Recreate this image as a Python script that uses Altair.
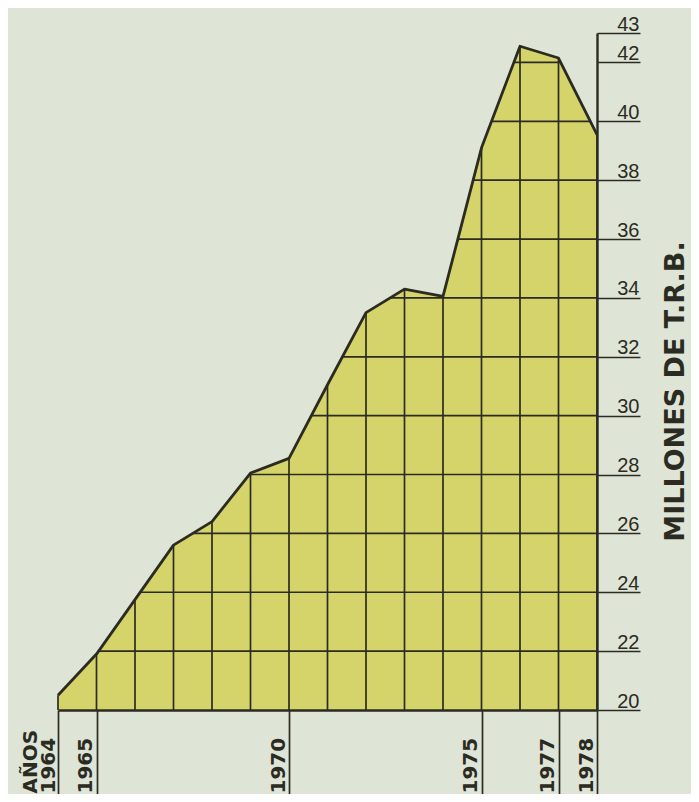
import altair as alt
import pandas as pd

# ---- data ----
years = [1964, 1965, 1966, 1967, 1968, 1969, 1970, 1971, 1972, 1973, 1974, 1975, 1976, 1977, 1978]
values = [20.5, 21.9, 23.75, 25.6, 26.4, 28.05, 28.55, 31.05, 33.5, 34.3, 34.05, 39.1, 42.55, 42.15, 39.55]
grid_levels = [22, 24, 26, 28, 30, 32, 34, 36, 38, 40, 42]
y_ticks = [20, 22, 24, 26, 28, 30, 32, 34, 36, 38, 40, 42, 43]
x_ticks = [1964, 1965, 1970, 1975, 1977, 1978]
y_title = "MILLONES DE T.R.B."
x_first_extra = "AÑOS"

BG = "#dee5d7"
FILL = "#d5d46a"
INK = "#2b2b22"

df = pd.DataFrame({"year": years, "value": values})
df["base"] = 20
df["top"] = 43
grid_df = pd.DataFrame({"level": grid_levels})
grid_df["x0"] = years[0]
grid_df["x1"] = years[-1]

xscale = alt.Scale(domain=[1964, 1978], nice=False, zero=False)
yscale = alt.Scale(domain=[20, 43], nice=False, zero=False)

x_axis = alt.Axis(
    values=x_ticks, format="d", title=None, orient="bottom",
    tickSize=86, tickWidth=1.7, tickColor=INK,
    domainColor=INK, domainWidth=2.4,
    labelAngle=270, labelAlign="left", labelBaseline="bottom",
    labelPadding=-3,
    labelOffset={"condition": {"test": "datum.value == 1964", "value": -18}, "value": -1},
    labelFont="DejaVu Sans", labelFontWeight="bold", labelFontSize=20, labelColor=INK,
    labelExpr="datum.value == 1964 ? ['" + x_first_extra + "', '1964'] : format(datum.value, 'd')",
    labelLineHeight=18, labelFlush=False, labelOverlap=False, labelBound=False,
    grid=False, zindex=1,
)

y_axis = alt.Axis(
    values=y_ticks, orient="right", title=y_title,
    tickSize=43, tickWidth=1.7, tickColor=INK,
    domainColor=INK, domainWidth=2.4,
    labelAlign="right", labelBaseline="alphabetic", labelPadding=-1, labelOffset=-3,
    labelFont="Liberation Sans", labelFontSize=20, labelColor=INK,
    labelFlush=False, labelOverlap=False,
    grid=False,
    titleAngle=270, titleX=78, titleY=358, titleAlign="center", titleBaseline="middle",
    titleFont="DejaVu Sans", titleFontSize=27, titleFontWeight="bold", titleColor=INK,
    zindex=1,
)

area = alt.Chart(df).mark_area(color=FILL).encode(
    x=alt.X("year:Q", scale=xscale, axis=x_axis),
    y=alt.Y("value:Q", scale=yscale, axis=y_axis),
    y2="base:Q",
)

hgrid = alt.Chart(grid_df).mark_rule(color=INK, strokeWidth=1.7).encode(
    x=alt.X("x0:Q", scale=xscale),
    x2="x1:Q",
    y=alt.Y("level:Q", scale=yscale),
)

vgrid = alt.Chart(df).mark_rule(color=INK, strokeWidth=1.7).encode(
    x=alt.X("year:Q", scale=xscale),
    y=alt.Y("base:Q", scale=yscale),
    y2="value:Q",
)

mask = alt.Chart(df).mark_area(color=BG).encode(
    x=alt.X("year:Q", scale=xscale),
    y=alt.Y("value:Q", scale=yscale),
    y2="top:Q",
)

line = alt.Chart(df).mark_line(color=INK, strokeWidth=2.8, strokeJoin="round").encode(
    x=alt.X("year:Q", scale=xscale),
    y=alt.Y("value:Q", scale=yscale),
)

chart = alt.layer(area, hgrid, vgrid, mask, line).properties(
    width=539, height=677,
    padding={"left": 50, "top": 25, "right": 94, "bottom": 84},
    autosize=alt.AutoSizeParams(type="none"),
    background=BG,
).configure_view(stroke=None)

chart.save("out.html", embed_options={"renderer": "svg", "actions": False})
